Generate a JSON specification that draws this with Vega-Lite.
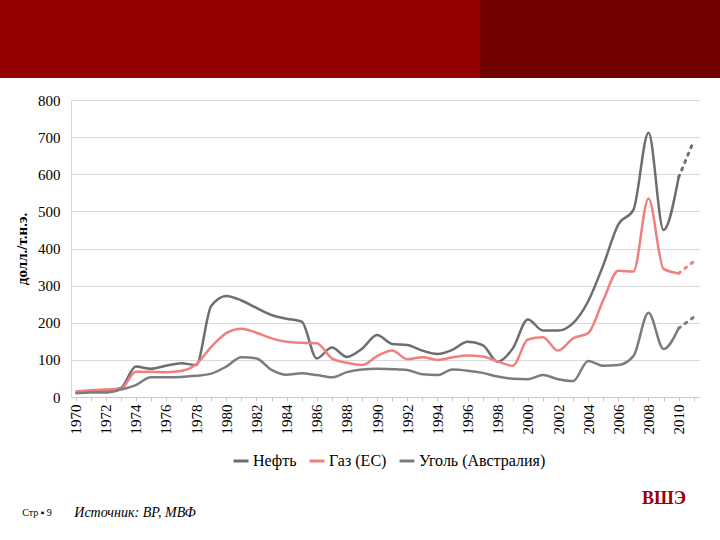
{
  "$schema": "https://vega.github.io/schema/vega-lite/v6.json",
  "background": "#ffffff",
  "padding": 0,
  "autosize": {"type": "pad"},
  "config": {
    "font": "Liberation Serif",
    "view": {"stroke": null},
    "axis": {"labelFont": "Liberation Serif", "titleFont": "Liberation Serif"},
    "legend": {"labelFont": "Liberation Serif", "titleFont": "Liberation Serif"},
    "text": {"font": "Liberation Serif"}
  },
  "datasets": {
    "prices": [
      {"year": 1970, "series": "Нефть", "v": 12}, {"year": 1971, "series": "Нефть", "v": 15},
      {"year": 1972, "series": "Нефть", "v": 18}, {"year": 1973, "series": "Нефть", "v": 24},
      {"year": 1974, "series": "Нефть", "v": 82}, {"year": 1975, "series": "Нефть", "v": 76},
      {"year": 1976, "series": "Нефть", "v": 84}, {"year": 1977, "series": "Нефть", "v": 91},
      {"year": 1978, "series": "Нефть", "v": 86}, {"year": 1979, "series": "Нефть", "v": 245},
      {"year": 1980, "series": "Нефть", "v": 272}, {"year": 1981, "series": "Нефть", "v": 260},
      {"year": 1982, "series": "Нефть", "v": 240}, {"year": 1983, "series": "Нефть", "v": 221},
      {"year": 1984, "series": "Нефть", "v": 211}, {"year": 1985, "series": "Нефть", "v": 203},
      {"year": 1986, "series": "Нефть", "v": 104}, {"year": 1987, "series": "Нефть", "v": 133},
      {"year": 1988, "series": "Нефть", "v": 108}, {"year": 1989, "series": "Нефть", "v": 130},
      {"year": 1990, "series": "Нефть", "v": 167}, {"year": 1991, "series": "Нефть", "v": 143},
      {"year": 1992, "series": "Нефть", "v": 140}, {"year": 1993, "series": "Нефть", "v": 125},
      {"year": 1994, "series": "Нефть", "v": 116}, {"year": 1995, "series": "Нефть", "v": 127},
      {"year": 1996, "series": "Нефть", "v": 149}, {"year": 1997, "series": "Нефть", "v": 140},
      {"year": 1998, "series": "Нефть", "v": 95}, {"year": 1999, "series": "Нефть", "v": 131},
      {"year": 2000, "series": "Нефть", "v": 209}, {"year": 2001, "series": "Нефть", "v": 179},
      {"year": 2002, "series": "Нефть", "v": 179}, {"year": 2003, "series": "Нефть", "v": 199},
      {"year": 2004, "series": "Нефть", "v": 258}, {"year": 2005, "series": "Нефть", "v": 355},
      {"year": 2006, "series": "Нефть", "v": 465}, {"year": 2007, "series": "Нефть", "v": 504},
      {"year": 2008, "series": "Нефть", "v": 712}, {"year": 2009, "series": "Нефть", "v": 450},
      {"year": 2010, "series": "Нефть", "v": 592},
      {"year": 1970, "series": "Газ (ЕС)", "v": 15}, {"year": 1971, "series": "Газ (ЕС)", "v": 18},
      {"year": 1972, "series": "Газ (ЕС)", "v": 20}, {"year": 1973, "series": "Газ (ЕС)", "v": 22},
      {"year": 1974, "series": "Газ (ЕС)", "v": 68}, {"year": 1975, "series": "Газ (ЕС)", "v": 68},
      {"year": 1976, "series": "Газ (ЕС)", "v": 67}, {"year": 1977, "series": "Газ (ЕС)", "v": 70},
      {"year": 1978, "series": "Газ (ЕС)", "v": 88}, {"year": 1979, "series": "Газ (ЕС)", "v": 135},
      {"year": 1980, "series": "Газ (ЕС)", "v": 172}, {"year": 1981, "series": "Газ (ЕС)", "v": 184},
      {"year": 1982, "series": "Газ (ЕС)", "v": 173}, {"year": 1983, "series": "Газ (ЕС)", "v": 158},
      {"year": 1984, "series": "Газ (ЕС)", "v": 149}, {"year": 1985, "series": "Газ (ЕС)", "v": 146},
      {"year": 1986, "series": "Газ (ЕС)", "v": 145}, {"year": 1987, "series": "Газ (ЕС)", "v": 104},
      {"year": 1988, "series": "Газ (ЕС)", "v": 92}, {"year": 1989, "series": "Газ (ЕС)", "v": 86},
      {"year": 1990, "series": "Газ (ЕС)", "v": 110}, {"year": 1991, "series": "Газ (ЕС)", "v": 125},
      {"year": 1992, "series": "Газ (ЕС)", "v": 102}, {"year": 1993, "series": "Газ (ЕС)", "v": 107},
      {"year": 1994, "series": "Газ (ЕС)", "v": 100}, {"year": 1995, "series": "Газ (ЕС)", "v": 107},
      {"year": 1996, "series": "Газ (ЕС)", "v": 112}, {"year": 1997, "series": "Газ (ЕС)", "v": 109},
      {"year": 1998, "series": "Газ (ЕС)", "v": 96}, {"year": 1999, "series": "Газ (ЕС)", "v": 84},
      {"year": 2000, "series": "Газ (ЕС)", "v": 155}, {"year": 2001, "series": "Газ (ЕС)", "v": 161},
      {"year": 2002, "series": "Газ (ЕС)", "v": 125}, {"year": 2003, "series": "Газ (ЕС)", "v": 158},
      {"year": 2004, "series": "Газ (ЕС)", "v": 172}, {"year": 2005, "series": "Газ (ЕС)", "v": 261},
      {"year": 2006, "series": "Газ (ЕС)", "v": 340}, {"year": 2007, "series": "Газ (ЕС)", "v": 338},
      {"year": 2008, "series": "Газ (ЕС)", "v": 535}, {"year": 2009, "series": "Газ (ЕС)", "v": 345},
      {"year": 2010, "series": "Газ (ЕС)", "v": 333},
      {"year": 1970, "series": "Уголь (Австралия)", "v": 10}, {"year": 1971, "series": "Уголь (Австралия)", "v": 12},
      {"year": 1972, "series": "Уголь (Австралия)", "v": 12}, {"year": 1973, "series": "Уголь (Австралия)", "v": 20},
      {"year": 1974, "series": "Уголь (Австралия)", "v": 32}, {"year": 1975, "series": "Уголь (Австралия)", "v": 53},
      {"year": 1976, "series": "Уголь (Австралия)", "v": 53}, {"year": 1977, "series": "Уголь (Австралия)", "v": 54},
      {"year": 1978, "series": "Уголь (Австралия)", "v": 57}, {"year": 1979, "series": "Уголь (Австралия)", "v": 63},
      {"year": 1980, "series": "Уголь (Австралия)", "v": 82}, {"year": 1981, "series": "Уголь (Австралия)", "v": 107},
      {"year": 1982, "series": "Уголь (Австралия)", "v": 104}, {"year": 1983, "series": "Уголь (Австралия)", "v": 73},
      {"year": 1984, "series": "Уголь (Австралия)", "v": 60}, {"year": 1985, "series": "Уголь (Австралия)", "v": 64},
      {"year": 1986, "series": "Уголь (Австралия)", "v": 59}, {"year": 1987, "series": "Уголь (Австралия)", "v": 53},
      {"year": 1988, "series": "Уголь (Австралия)", "v": 67}, {"year": 1989, "series": "Уголь (Австралия)", "v": 74},
      {"year": 1990, "series": "Уголь (Австралия)", "v": 76}, {"year": 1991, "series": "Уголь (Австралия)", "v": 75},
      {"year": 1992, "series": "Уголь (Австралия)", "v": 73}, {"year": 1993, "series": "Уголь (Австралия)", "v": 61},
      {"year": 1994, "series": "Уголь (Австралия)", "v": 59}, {"year": 1995, "series": "Уголь (Австралия)", "v": 74},
      {"year": 1996, "series": "Уголь (Австралия)", "v": 71}, {"year": 1997, "series": "Уголь (Австралия)", "v": 65},
      {"year": 1998, "series": "Уголь (Австралия)", "v": 55}, {"year": 1999, "series": "Уголь (Австралия)", "v": 49},
      {"year": 2000, "series": "Уголь (Австралия)", "v": 48}, {"year": 2001, "series": "Уголь (Австралия)", "v": 59},
      {"year": 2002, "series": "Уголь (Австралия)", "v": 48}, {"year": 2003, "series": "Уголь (Австралия)", "v": 43},
      {"year": 2004, "series": "Уголь (Австралия)", "v": 97}, {"year": 2005, "series": "Уголь (Австралия)", "v": 84},
      {"year": 2006, "series": "Уголь (Австралия)", "v": 86}, {"year": 2007, "series": "Уголь (Австралия)", "v": 110},
      {"year": 2008, "series": "Уголь (Австралия)", "v": 227}, {"year": 2009, "series": "Уголь (Австралия)", "v": 129},
      {"year": 2010, "series": "Уголь (Австралия)", "v": 185}
    ],
    "forecast": [
      {"year": 2010, "series": "Нефть", "v": 592}, {"year": 2011, "series": "Нефть", "v": 690},
      {"year": 2010, "series": "Газ (ЕС)", "v": 333}, {"year": 2011, "series": "Газ (ЕС)", "v": 365},
      {"year": 2010, "series": "Уголь (Австралия)", "v": 185}, {"year": 2011, "series": "Уголь (Австралия)", "v": 215}
    ]
  },
  "spacing": 15,
  "vconcat": [
    {
      "spacing": 0,
      "hconcat": [
        {"width": 480, "height": 78, "view": {"fill": "#950000", "stroke": null},
         "data": {"values": [{}]}, "mark": {"type": "text", "text": ""}},
        {"width": 240, "height": 78, "view": {"fill": "#720000", "stroke": null},
         "data": {"values": [{}]}, "mark": {"type": "text", "text": ""}}
      ]
    },
    {
      "spacing": 56,
      "vconcat": [
        {
          "spacing": 0,
          "hconcat": [
            {"width": 14, "height": 297, "data": {"values": [{}]}, "mark": {"type": "text", "text": ""}},
            {
              "width": 628,
              "height": 297,
              "encoding": {
                "x": {
                  "field": "year", "type": "quantitative",
                  "scale": {"domain": [1969.7, 2011.35], "nice": false, "zero": false},
                  "axis": {
                    "title": null,
                    "values": [1970, 1971, 1972, 1973, 1974, 1975, 1976, 1977, 1978, 1979, 1980, 1981, 1982, 1983, 1984, 1985, 1986, 1987, 1988, 1989, 1990, 1991, 1992, 1993, 1994, 1995, 1996, 1997, 1998, 1999, 2000, 2001, 2002, 2003, 2004, 2005, 2006, 2007, 2008, 2009, 2010, 2011],
                    "labelExpr": "datum.value % 2 == 0 && datum.value <= 2010 ? datum.value : ''",
                    "labelAngle": 270, "labelAlign": "right", "labelBaseline": "middle",
                    "labelFont": "Liberation Serif", "labelFontSize": 15, "labelColor": "#000000", "labelPadding": 3,
                    "labelOverlap": false, "labelFlush": false,
                    "grid": false, "domainColor": "#c8c8c8", "tickColor": "#c8c8c8", "tickSize": 4
                  }
                },
                "y": {
                  "field": "v", "type": "quantitative",
                  "scale": {"domain": [0, 800], "nice": false},
                  "axis": {
                    "title": "долл./т.н.э.", "titleFont": "Liberation Serif", "titleFontSize": 15, "titleFontWeight": "bold",
                    "titleColor": "#000000", "titlePadding": 8,
                    "values": [0, 100, 200, 300, 400, 500, 600, 700, 800],
                    "labelFont": "Liberation Serif", "labelFontSize": 15, "labelColor": "#000000", "labelPadding": 11,
                    "ticks": false, "domainColor": "#d9d9d9", "gridColor": "#d9d9d9"
                  }
                },
                "color": {
                  "field": "series", "type": "nominal",
                  "scale": {
                    "domain": ["Нефть", "Газ (ЕС)", "Уголь (Австралия)"],
                    "range": ["#6e6e6e", "#f08080", "#7c7c7c"]
                  }
                }
              },
              "layer": [
                {
                  "data": {"name": "prices"},
                  "mark": {"type": "line", "interpolate": "monotone", "strokeWidth": 2.5},
                  "encoding": {
                    "color": {
                      "field": "series", "type": "nominal",
                      "legend": {
                        "title": null, "orient": "none", "direction": "horizontal",
                        "legendX": 232, "legendY": 452,
                        "symbolType": "stroke", "symbolStrokeWidth": 3, "symbolSize": 225,
                        "labelFont": "Liberation Serif", "labelFontSize": 16, "labelColor": "#000000",
                        "labelOffset": 3, "columnPadding": 6
                      }
                    }
                  }
                },
                {
                  "data": {"name": "forecast"},
                  "mark": {"type": "line", "strokeWidth": 3, "strokeDash": [2, 6], "strokeCap": "round"},
                  "encoding": {}
                }
              ]
            }
          ]
        },
        {
          "spacing": 0,
          "hconcat": [
            {"width": 74, "height": 44, "data": {"values": [{"t": "Стр ▪ 9"}]},
             "mark": {"type": "text", "fontSize": 10, "color": "#000000"},
             "encoding": {"text": {"field": "t"}}},
            {"width": 122, "height": 44, "data": {"values": [{"t": "Источник: BP, МВФ"}]},
             "mark": {"type": "text", "fontSize": 14, "fontStyle": "italic", "color": "#000000"},
             "encoding": {"text": {"field": "t"}}},
            {"width": 412, "height": 44, "data": {"values": [{}]}, "mark": {"type": "text", "text": ""}},
            {"width": 112, "height": 16, "data": {"values": [{"t": "ВШЭ"}]},
             "mark": {"type": "text", "fontSize": 18, "fontWeight": "bold", "color": "#9a0000"},
             "encoding": {"text": {"field": "t"}}}
          ]
        }
      ]
    }
  ]
}
